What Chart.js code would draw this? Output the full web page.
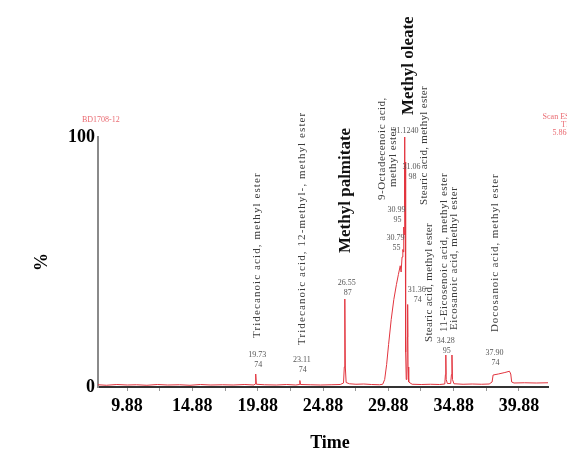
<!DOCTYPE html>
<html>
<head>
<meta charset="utf-8">
<script src="https://cdn.jsdelivr.net/npm/chart.js@4.4.1/dist/chart.umd.min.js"></script>
<style>
  html, body { margin: 0; padding: 0; background: #fff; }
  #c { display: block; }
</style>
</head>
<body>
<canvas id="c" width="567" height="451"></canvas>
<script>
// ---- chromatogram data (retention time in minutes, relative abundance in %) ----
const tickLabels = ['9.88', '14.88', '19.88', '24.88', '29.88', '34.88', '39.88'];
const timeRange = [7.66, 42.1];

const traceTime = [
  7.66, 8.3, 9.1, 9.9, 10.6, 11.4, 12.2, 13.0, 13.9, 14.7, 15.5, 16.3, 17.2, 18.0, 18.9,
  19.6, 19.68, 19.73, 19.78, 20.4, 21.3, 22.1, 22.8, 23.06, 23.11, 23.16, 23.9, 24.7, 25.5,
  26.2, 26.45, 26.51, 26.55, 26.59, 26.65, 26.9, 27.4, 28.0, 28.6, 29.2, 29.45, 29.6, 29.75,
  29.9, 30.1, 30.3, 30.5, 30.65, 30.79, 30.86, 30.93, 30.99, 31.03, 31.06, 31.08, 31.12,
  31.15, 31.17, 31.19, 31.22, 31.25, 31.3, 31.34, 31.36, 31.39, 31.44, 31.7, 32.4, 33.1,
  33.8, 34.2, 34.25, 34.28, 34.31, 34.4, 34.65, 34.71, 34.75, 34.79, 34.9, 35.6, 36.3,
  37.0, 37.6, 37.82, 37.9, 38.3, 38.8, 39.15, 39.25, 39.32, 39.5, 40.3, 41.2, 42.1
];
const traceValue = [
  0.9, 0.7, 1.0, 0.8, 0.9, 0.7, 1.0, 0.8, 0.9, 0.7, 1.0, 0.8, 0.9, 0.8, 1.0,
  0.8, 1.2, 5.2, 1.1, 0.9, 0.8, 1.0, 0.8, 1.0, 2.6, 1.0, 0.9, 0.8, 0.9,
  1.0, 1.6, 8.0, 35.2, 8.0, 1.8, 1.3, 1.1, 1.2, 1.0, 0.9, 1.1, 3.0, 9.0,
  17.0, 27.0, 35.0, 41.0, 45.0, 48.5, 46.0, 52.0, 55.0, 54.0, 64.0, 61.0, 100.0,
  72.0, 90.0, 55.0, 14.0, 3.0, 6.0, 20.0, 33.0, 8.0, 2.0, 1.1, 1.0, 1.1,
  1.0, 1.2, 5.0, 12.8, 3.0, 1.4, 1.4, 5.0, 12.8, 3.0, 1.3, 1.1, 1.2,
  1.1, 1.2, 2.0, 4.8, 5.2, 5.8, 6.3, 5.2, 2.0, 1.6, 1.7, 1.6, 1.7
];

// labelled peaks: retention time and base ion
const peakTimes = [19.73, 23.11, 26.55, 30.79, 30.99, 31.06, 31.12, 31.36, 34.28, 37.90];
const peakRtText = ['19.73', '23.11', '26.55', '30.79', '30.99', '31.06', '31.12', '31.36', '34.28', '37.90'];
const peakIonText = ['74', '74', '87', '55', '95', '98', '40', '74', '95', '74'];

// identified compounds and the peak each name belongs to
const compoundNames = [
  'Tridecanoic acid, methyl ester',
  'Tridecanoic acid, 12-methyl-, methyl ester',
  'Methyl palmitate',
  '9-Octadecenoic acid,',
  'methyl ester',
  'Methyl oleate',
  'Stearic acid, methyl ester',
  'Stearic acid, methyl ester',
  '11-Eicosenoic acid, methyl ester',
  'Eicosanoic acid, methyl ester',
  'Docosanoic acid, methyl ester'
];
const compoundTimes = [19.73, 23.11, 26.55, 31.12, 31.12, 31.12, 31.36, 31.36, 34.28, 34.75, 37.90];
const boldCompounds = ['Methyl palmitate', 'Methyl oleate'];

const sampleId = 'BD1708-12';
const detectorInfo = ['Scan ES+', 'TIC', '5.86e8'];

// ---- annotation layout: [horizontal offset px, text start (% units), letter spacing px] ----
const nameLayout = [
  [1.5, 19.6, 1.1], [2, 16.8, 1.1], [0.5, 53.6, 0], [-22, 74.8, 0.5], [-11, 80, 0.5],
  [4, 108.8, 0], [16, 72.8, 0.3], [21, 18, 0.3], [-1.5, 22, 0.5], [2, 22.8, 0.5], [1.5, 22, 0.9]
];
// [horizontal offset px, retention-time row (% units)]
const peakLayout = [
  [1.5, 12.8], [2, 10.8], [2, 41.6], [-4.7, 59.6], [-6.3, 70.8], [7.8, 88],
  [1, 102.4], [9, 38.8], [0, 18.4], [1.5, 13.6]
];

const SERIF = '"Liberation Serif", "Times New Roman", serif';
const RED = 'rgb(226, 52, 62)';

const majorTicks = tickLabels.map(Number);

const annotate = {
  id: 'annotate',
  afterDraw(chart) {
    const ctx = chart.ctx;
    const xs = chart.scales.x, ys = chart.scales.y;
    ctx.save();

    // compound names, written upwards
    compoundNames.forEach((name, i) => {
      const [dx, start, spacing] = nameLayout[i];
      const x = xs.getPixelForValue(compoundTimes[i]) + dx;
      const y = ys.getPixelForValue(start);
      const bold = boldCompounds.includes(name);
      ctx.save();
      ctx.translate(x, y);
      ctx.rotate(-Math.PI / 2);
      ctx.font = bold ? 'bold 17px ' + SERIF : '11px ' + SERIF;
      ctx.letterSpacing = spacing + 'px';
      ctx.fillStyle = bold ? '#111' : '#3c3c3c';
      ctx.textAlign = 'left';
      ctx.textBaseline = 'middle';
      ctx.fillText(name, 0, 0);
      ctx.restore();
    });

    // retention time / ion labels
    ctx.font = '8px ' + SERIF;
    ctx.fillStyle = '#555';
    ctx.textAlign = 'center';
    ctx.textBaseline = 'middle';
    peakTimes.forEach((t, i) => {
      const [dx, row] = peakLayout[i];
      const x = xs.getPixelForValue(t) + dx;
      const y = ys.getPixelForValue(row);
      if (t === 31.12) {
        ctx.fillText(peakRtText[i] + peakIonText[i], x, y);
      } else {
        ctx.fillText(peakRtText[i], x, y);
        ctx.fillText(peakIonText[i], x + 1, y + 10);
      }
    });

    // acquisition header text
    ctx.fillStyle = 'rgba(226, 52, 62, 0.75)';
    ctx.font = '8px ' + SERIF;
    ctx.textAlign = 'left';
    ctx.fillText(sampleId, 82, 120);
    ctx.textAlign = 'right';
    detectorInfo.forEach((s, i) => ctx.fillText(s, 574, 117 + i * 8));

    // axis titles
    ctx.fillStyle = '#000';
    ctx.font = 'bold 18px ' + SERIF;
    ctx.textAlign = 'center';
    ctx.fillText('Time', 330, 443);
    ctx.save();
    ctx.translate(42, 262);
    ctx.rotate(-Math.PI / 2);
    ctx.fillText('%', 0, 0);
    ctx.restore();

    ctx.restore();
  }
};

new Chart(document.getElementById('c'), {
  type: 'line',
  data: {
    datasets: [{
      data: traceTime.map((t, i) => ({ x: t, y: traceValue[i] })),
      borderColor: RED,
      borderWidth: 1,
      pointRadius: 0,
      tension: 0,
      fill: false
    }]
  },
  options: {
    responsive: false,
    animation: false,
    devicePixelRatio: 1,
    layout: { padding: { top: 137, right: 19, left: 0, bottom: 0 } },
    plugins: { legend: { display: false }, tooltip: { enabled: false } },
    scales: {
      x: {
        type: 'linear',
        min: timeRange[0],
        max: timeRange[1],
        afterBuildTicks(scale) {
          const ticks = [];
          majorTicks.forEach(v => {
            ticks.push({ value: v });
            if (v + 2.5 < timeRange[1]) ticks.push({ value: +(v + 2.5).toFixed(2) });
          });
          ticks.unshift({ value: +(majorTicks[0] - 2.5).toFixed(2) });
          scale.ticks = ticks.filter(t => t.value >= timeRange[0] && t.value <= timeRange[1]);
        },
        afterFit(scale) { scale.height = 64; },
        ticks: {
          autoSkip: false,
          maxRotation: 0,
          padding: 5,
          color: '#000',
          font: { family: SERIF, size: 18, weight: 'bold' },
          callback(value) {
            const i = majorTicks.findIndex(m => Math.abs(m - value) < 1e-6);
            return i >= 0 ? tickLabels[i] : '';
          }
        },
        grid: { display: true, drawOnChartArea: false, drawTicks: true, tickLength: 4, color: '#999' },
        border: { display: true, color: '#333', width: 2 }
      },
      y: {
        min: 0,
        max: 100,
        afterBuildTicks(scale) { scale.ticks = [{ value: 0 }, { value: 100 }]; },
        afterFit(scale) { scale.width = 98; },
        ticks: {
          padding: 3,
          color: '#000',
          font: { family: SERIF, size: 18, weight: 'bold' }
        },
        grid: { display: false, drawTicks: false },
        border: { display: true, color: '#8a8a8a', width: 2 }
      }
    }
  },
  plugins: [annotate]
});
</script>
</body>
</html>
